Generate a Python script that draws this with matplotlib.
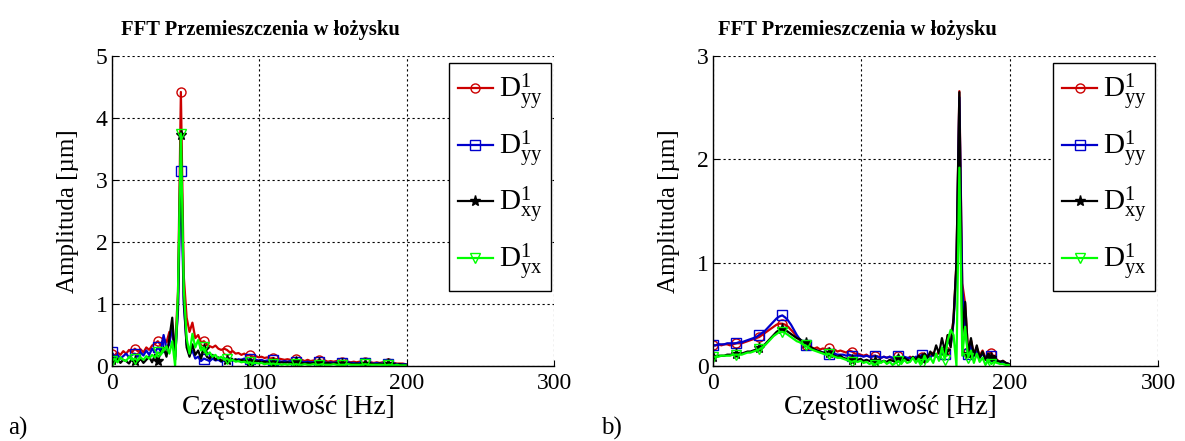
import numpy as np
import matplotlib
matplotlib.use("Agg")
import matplotlib.pyplot as plt

plt.rcParams['font.family'] = ['Liberation Serif', 'DejaVu Serif']
plt.rcParams['mathtext.fontset'] = 'custom'
plt.rcParams['mathtext.rm'] = 'Liberation Serif'
plt.rcParams['mathtext.it'] = 'Liberation Serif:italic'

# frequency grid [Hz] (fs = 1000 Hz, 512-point FFT), 0 .. ~199 Hz
freq_step = 1000.0 / 512.0
n_bins = 103
freq = np.arange(n_bins) * freq_step

title = "FFT Przemieszczenia w łożysku"
xlabel = "Częstotliwość [Hz]"
ylabel = "Amplituda [µm]"
labels = [r"$\mathrm{D}^{1}_{\mathrm{yy}}$", r"$\mathrm{D}^{1}_{\mathrm{yy}}$",
          r"$\mathrm{D}^{1}_{\mathrm{xy}}$", r"$\mathrm{D}^{1}_{\mathrm{yx}}$"]
xticks = [0, 100, 200, 300]
yticks_a = [0, 1, 2, 3, 4, 5]
yticks_b = [0, 1, 2, 3]

# ---- panel a) ----
a_dyy_red = [0.20,0.17,0.22,0.18,0.24,0.20,0.26,0.22,0.28,0.24,
             0.27,0.22,0.30,0.26,0.33,0.36,0.40,0.34,0.45,0.38,
             0.55,0.50,0.30,1.20,4.42,1.45,0.78,0.55,0.70,0.45,
             0.50,0.38,0.40,0.35,0.32,0.30,0.33,0.28,0.26,0.28,
             0.26,0.22,0.24,0.20,0.21,0.18,0.20,0.17,0.18,0.15,
             0.16,0.14,0.15,0.13,0.14,0.12,0.13,0.11,0.12,0.11,
             0.10,0.11,0.10,0.09,0.11,0.09,0.10,0.08,0.10,0.08,
             0.09,0.08,0.10,0.08,0.09,0.07,0.08,0.07,0.08,0.07,
             0.07,0.06,0.07,0.06,0.07,0.06,0.07,0.05,0.06,0.05,
             0.06,0.05,0.06,0.05,0.06,0.05,0.05,0.04,0.05,0.04,
             0.04,0.04,0.03]
a_dyy_blue = [0.22,0.15,0.18,0.12,0.16,0.20,0.14,0.18,0.20,0.15,
              0.22,0.17,0.25,0.18,0.28,0.22,0.30,0.24,0.50,0.28,
              0.35,0.65,0.15,0.90,3.15,1.00,0.35,0.18,0.25,0.12,
              0.15,0.08,0.12,0.10,0.08,0.12,0.09,0.10,0.07,0.09,
              0.05,0.08,0.10,0.09,0.11,0.10,0.12,0.10,0.11,0.09,
              0.10,0.09,0.10,0.08,0.09,0.08,0.09,0.08,0.08,0.07,
              0.08,0.07,0.08,0.07,0.07,0.06,0.07,0.06,0.07,0.06,
              0.06,0.06,0.07,0.06,0.06,0.05,0.06,0.05,0.06,0.05,
              0.05,0.05,0.06,0.05,0.05,0.04,0.05,0.04,0.05,0.04,
              0.04,0.04,0.05,0.04,0.04,0.03,0.04,0.03,0.04,0.03,
              0.03,0.03,0.03]
a_dxy_black = [0.10,0.06,0.12,0.05,0.10,0.08,0.04,0.12,0.08,0.06,
               0.12,0.05,0.10,0.15,0.06,0.18,0.08,0.22,0.30,0.15,
               0.45,0.78,0.10,1.00,3.72,1.10,0.30,0.15,0.35,0.18,
               0.25,0.12,0.28,0.15,0.12,0.18,0.10,0.14,0.08,0.12,
               0.10,0.12,0.09,0.11,0.08,0.10,0.08,0.09,0.07,0.08,
               0.07,0.08,0.06,0.07,0.06,0.07,0.05,0.06,0.05,0.06,
               0.05,0.06,0.05,0.05,0.06,0.04,0.05,0.04,0.05,0.04,
               0.05,0.04,0.05,0.04,0.04,0.05,0.04,0.04,0.05,0.04,
               0.04,0.03,0.04,0.04,0.03,0.04,0.03,0.04,0.03,0.03,
               0.04,0.03,0.03,0.04,0.03,0.03,0.03,0.02,0.03,0.02,
               0.03,0.02,0.02]
a_dyx_green = [0.08,0.12,0.06,0.14,0.10,0.08,0.15,0.10,0.12,0.09,
               0.14,0.10,0.16,0.12,0.18,0.14,0.22,0.18,0.25,0.32,
               0.20,0.40,0.00,1.20,3.75,1.25,0.45,0.20,0.52,0.30,
               0.42,0.25,0.30,0.18,0.22,0.15,0.18,0.12,0.15,0.10,
               0.12,0.08,0.10,0.07,0.08,0.06,0.07,0.05,0.06,0.04,
               0.05,0.04,0.05,0.03,0.04,0.03,0.04,0.03,0.03,0.02,
               0.03,0.02,0.03,0.02,0.03,0.02,0.02,0.03,0.02,0.02,
               0.03,0.02,0.02,0.03,0.02,0.02,0.02,0.03,0.02,0.02,
               0.02,0.02,0.03,0.02,0.02,0.02,0.02,0.02,0.03,0.02,
               0.02,0.02,0.02,0.02,0.02,0.01,0.02,0.02,0.01,0.02,
               0.01,0.01,0.01]

# ---- panel b) ----
b_dyy_red = [0.20,0.20,0.21,0.20,0.21,0.21,0.20,0.21,0.22,0.22,
             0.22,0.23,0.24,0.25,0.26,0.27,0.28,0.30,0.32,0.34,
             0.36,0.38,0.40,0.41,0.41,0.40,0.38,0.35,0.32,0.28,
             0.25,0.22,0.20,0.19,0.18,0.17,0.18,0.16,0.17,0.16,
             0.17,0.15,0.16,0.14,0.15,0.14,0.13,0.15,0.14,0.12,
             0.12,0.11,0.10,0.11,0.09,0.10,0.10,0.09,0.08,0.09,
             0.08,0.09,0.07,0.08,0.10,0.07,0.08,0.06,0.09,0.07,
             0.08,0.10,0.09,0.12,0.08,0.11,0.13,0.09,0.15,0.12,
             0.15,0.30,0.22,0.46,1.00,2.66,0.80,0.60,0.14,0.25,
             0.12,0.18,0.10,0.15,0.08,0.12,0.13,0.08,0.06,0.04,
             0.05,0.03,0.02]
b_dyy_blue = [0.20,0.20,0.21,0.21,0.21,0.22,0.22,0.22,0.22,0.23,
              0.23,0.24,0.25,0.26,0.27,0.28,0.30,0.32,0.34,0.37,
              0.40,0.43,0.46,0.48,0.49,0.47,0.44,0.40,0.35,0.30,
              0.26,0.23,0.20,0.18,0.17,0.16,0.15,0.14,0.13,0.13,
              0.12,0.12,0.12,0.11,0.11,0.11,0.10,0.11,0.10,0.10,
              0.10,0.10,0.09,0.10,0.09,0.09,0.10,0.09,0.08,0.09,
              0.08,0.09,0.08,0.08,0.10,0.07,0.09,0.08,0.08,0.07,
              0.09,0.08,0.11,0.09,0.10,0.08,0.12,0.10,0.08,0.13,
              0.12,0.25,0.20,0.42,0.95,2.60,0.75,0.38,0.12,0.20,
              0.10,0.14,0.08,0.12,0.07,0.09,0.10,0.06,0.05,0.04,
              0.04,0.03,0.02]
b_dxy_black = [0.09,0.09,0.10,0.10,0.10,0.11,0.11,0.11,0.12,0.12,
               0.12,0.13,0.14,0.14,0.15,0.16,0.17,0.19,0.21,0.24,
               0.27,0.30,0.33,0.35,0.355,0.35,0.33,0.31,0.29,0.27,
               0.26,0.24,0.22,0.20,0.18,0.16,0.15,0.14,0.13,0.12,
               0.13,0.11,0.10,0.09,0.10,0.08,0.07,0.08,0.06,0.07,
               0.06,0.07,0.05,0.06,0.05,0.04,0.05,0.06,0.04,0.05,
               0.04,0.06,0.05,0.04,0.07,0.05,0.08,0.06,0.05,0.09,
               0.06,0.10,0.07,0.12,0.08,0.14,0.10,0.20,0.12,0.27,
               0.15,0.30,0.18,0.46,1.00,2.65,0.30,0.62,0.12,0.27,
               0.10,0.20,0.08,0.14,0.06,0.12,0.08,0.10,0.05,0.04,
               0.05,0.03,0.02]
b_dyx_green = [0.09,0.09,0.09,0.10,0.10,0.10,0.10,0.11,0.11,0.11,
               0.11,0.12,0.13,0.13,0.14,0.15,0.16,0.18,0.20,0.23,
               0.26,0.29,0.31,0.33,0.33,0.32,0.30,0.28,0.26,0.24,
               0.23,0.21,0.20,0.18,0.16,0.15,0.14,0.13,0.12,0.11,
               0.12,0.10,0.09,0.08,0.08,0.07,0.06,0.05,0.04,0.05,
               0.04,0.05,0.03,0.04,0.02,0.03,0.01,0.04,0.03,0.05,
               0.02,0.04,0.01,0.03,0.05,0.02,0.06,0.03,0.04,0.08,
               0.03,0.07,0.02,0.10,0.04,0.08,0.03,0.12,0.05,0.18,
               0.06,0.25,0.35,0.30,0.00,1.92,0.10,0.38,0.08,0.15,
               0.03,0.12,0.04,0.08,0.01,0.06,0.02,0.04,0.03,0.02,
               0.02,0.01,0.01]

colors = ['#cc0000', '#0000cc', '#000000', '#00ff00']
markers = ['o', 's', '*', 'v']

fig = plt.figure(figsize=(11.85, 4.41), dpi=100)
ax_a = fig.add_axes([0.0943, 0.170, 0.3734, 0.703])
ax_b = fig.add_axes([0.6014, 0.170, 0.3762, 0.703])

panels = [
    (ax_a, [a_dyy_red, a_dyy_blue, a_dxy_black, a_dyx_green], yticks_a, 0.336, 0.400),
    (ax_b, [b_dyy_red, b_dyy_blue, b_dxy_black, b_dyx_green], yticks_b, 0.324, 0.398),
]

for ax, series, yt, tx, lx in panels:
    for vals, c, m, lab in zip(series, colors, markers, labels):
        ms = 8 if m == '*' else 6.5
        ax.plot(freq, vals, color=c, lw=1.6, marker=m, markevery=8,
                markersize=ms, markerfacecolor='none' if m != '*' else c,
                markeredgecolor=c, markeredgewidth=1.0, label=lab)
    ax.set_xlim(0, 300)
    ax.set_ylim(0, yt[-1])
    ax.set_xticks(xticks)
    ax.set_yticks(yt)
    ax.tick_params(labelsize=17, direction='in', length=4)
    ax.tick_params(axis='x', pad=5)
    ax.tick_params(axis='y', pad=3)
    ax.grid(True, color='black', linestyle=(0, (2, 2.5)), linewidth=0.8)
    ax.set_axisbelow(True)
    for s in ['top', 'right']:
        ax.spines[s].set_visible(False)
    for s in ['left', 'bottom']:
        ax.spines[s].set_linewidth(1.0)
    ax.set_xlabel(xlabel, fontsize=20, labelpad=0)
    ax.xaxis.set_label_coords(lx, -0.135)
    ax.xaxis.label.set_va('center')
    ax.set_ylabel(ylabel, fontsize=18)
    ax.yaxis.set_label_coords(-0.098, 0.5)
    ax.yaxis.label.set_va('center')
    ax.text(tx, 1.084, title, transform=ax.transAxes, ha='center', va='center',
            fontsize=14.8, fontweight='bold')
    leg = ax.legend(loc='upper right', bbox_to_anchor=(0.993, 0.977),
                    borderaxespad=0, fontsize=21, handlelength=1.2,
                    handletextpad=0.2, labelspacing=0.52, borderpad=0.3,
                    fancybox=False, framealpha=1, edgecolor='black')
    leg.get_frame().set_linewidth(1.0)

fig.text(0.007, 0.003, "a)", fontsize=18, ha='left', va='bottom')
fig.text(0.507, 0.003, "b)", fontsize=18, ha='left', va='bottom')

fig.savefig("out.png", dpi=100)
